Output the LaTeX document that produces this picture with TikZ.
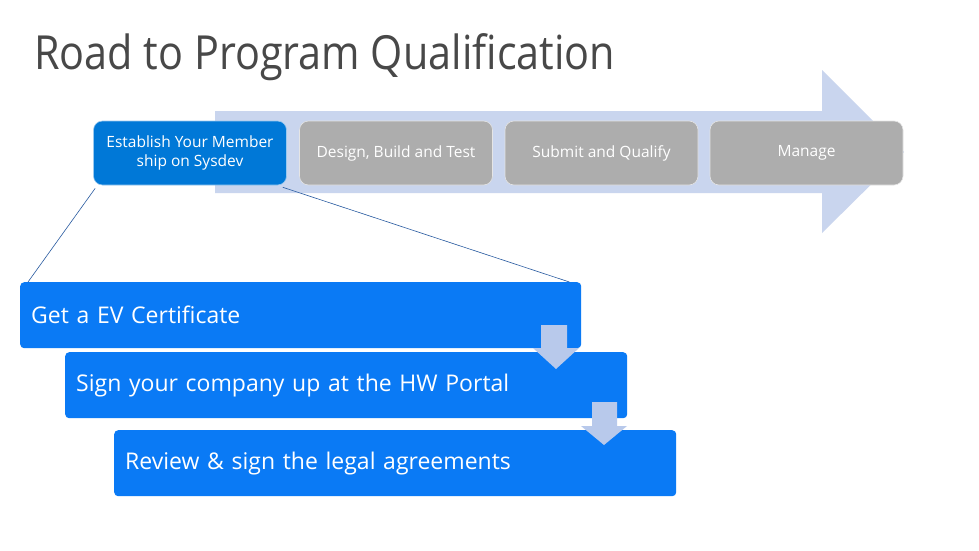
\documentclass[tikz,border=0pt]{standalone}
\usepackage{fontspec}
\setmainfont{Open Sans}
\definecolor{msblue}{RGB}{0,120,215}
\definecolor{boxblue}{RGB}{10,122,245}
\definecolor{stagegray}{RGB}{173,173,173}
\definecolor{arrowblue}{RGB}{201,213,238}
\definecolor{downblue}{RGB}{184,201,235}
\definecolor{titlegray}{RGB}{72,72,72}
\definecolor{linecol}{RGB}{40,90,160}
\tikzset{
  stagebox/.style={rectangle, rounded corners=9pt, minimum width=193pt, minimum height=64pt,
    draw=white!80!gray, line width=0.6pt, text=white, align=center, inner sep=2pt,
    font=\fontsize{15.5}{19}\selectfont},
  stepbox/.style={rectangle, rounded corners=4pt, fill=boxblue, text=white, anchor=north west,
    minimum height=66pt, text width=540pt, align=left, inner xsep=11pt,
    font=\fontsize{23}{27}\selectfont},
  zoomline/.style={draw=linecol, line width=0.6pt},
}
\begin{document}
\begin{tikzpicture}[x=1pt,y=-1pt]
\useasboundingbox (0,0) rectangle (979,551);
\fill[white] (0,0) rectangle (979,551);
\node[anchor=base west, inner sep=0pt, text=titlegray, font=\fontsize{47}{52}\selectfont] (title) at (34,70) {\scalebox{0.88}[1]{Road to Program Qualification}};
% big arrow
\fill[arrowblue] (215,111) -- (822,111) -- (822,70) -- (904,152) -- (822,233) -- (822,193) -- (215,193) -- cycle;
% stage boxes
\node[stagebox, fill=msblue, draw=white!60!msblue] (est) at (190,153) {Establish Your Member\\ship on Sysdev};
\node[stagebox, fill=stagegray] (design) at (396,153) {Design, Build and Test};
\node[stagebox, fill=stagegray] (submit) at (601.5,153) {Submit and Qualify};
\node[stagebox, fill=stagegray] (manage) at (806.5,153) {Manage};
% lower steps
\node[stepbox, minimum width=561pt, text width=539pt] (b1) at (20,282) {Get a EV Certificate};
\node[stepbox, minimum width=562pt, text width=540pt] (b2) at (65,352) {Sign your company up at the HW Portal};
\node[stepbox, minimum width=562pt, text width=540pt] (b3) at (114,430) {Review \& sign the legal agreements};
% zoom lines
\draw[zoomline] ([xshift=2pt,yshift=-3pt]est.south west) -- ([xshift=8pt]b1.north west);
\draw[zoomline] ([xshift=-4pt,yshift=-2pt]est.south east) -- ([xshift=-12pt]b1.north east);
% down arrows
\fill[downblue] (541,325) -- (567,325) -- (567,348) -- (579,348) -- (556,369) -- (533,348) -- (541,348) -- cycle;
\fill[downblue] (592,402) -- (617,402) -- (617,426) -- (627,426) -- (604,445) -- (581,426) -- (592,426) -- cycle;
\end{tikzpicture}
\end{document}
